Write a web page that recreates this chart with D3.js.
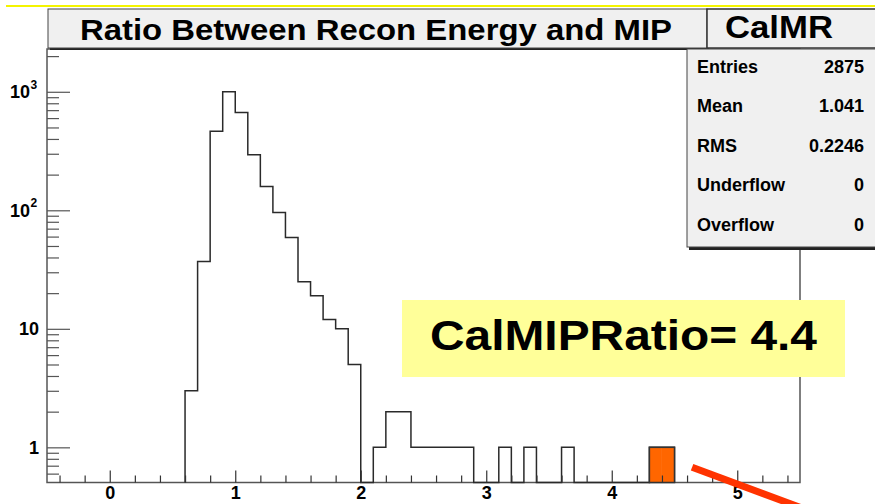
<!DOCTYPE html>
<html>
<head>
<meta charset="utf-8">
<script src="https://cdn.jsdelivr.net/npm/d3@7"></script>
<style>
  body { margin: 0; background: #fff; }
  svg { display: block; font-family: "Liberation Sans", Arial, sans-serif; font-weight: bold; }
</style>
</head>
<body>
<svg id="chart" width="875" height="504"></svg>
<script>
'use strict';

// histogram bins (lower edge, width 0.1) and their counts
var binLow = [0.6, 0.7, 0.8, 0.9, 1.0, 1.1, 1.2, 1.3, 1.4, 1.5, 1.6, 1.7, 1.8, 1.9,
              2.0, 2.1, 2.2, 2.3, 2.4, 2.5, 2.6, 2.7, 2.8, 2.9, 3.0, 3.1, 3.2, 3.3,
              3.4, 3.5, 3.6, 3.7, 3.8, 3.9, 4.0, 4.1, 4.2, 4.3, 4.4];
var counts = [3, 37, 465, 1000, 670, 294, 159, 96, 59, 25, 19, 12, 10, 5,
              0, 1, 2, 2, 1, 1, 1, 1, 1, 0, 0, 1, 0, 1,
              0, 0, 1, 0, 0, 0, 0, 0, 0, 1, 1];
var binWidth = 0.1;

// the highlighted bins
var highlightLow = [4.3, 4.4];

var xTickLabels = ['0', '1', '2', '3', '4', '5'];
var xTickValues = [0, 1, 2, 3, 4, 5];
var yTickValues = [1, 10, 100, 1000];
var yTickLabels = [['1', ''], ['10', ''], ['10', '2'], ['10', '3']];

var statNames = ['Entries', 'Mean', 'RMS', 'Underflow', 'Overflow'];
var statValues = ['2875', '1.041', '0.2246', '0', '0'];

var title = 'Ratio Between Recon Energy and MIP';
var histName = 'CalMR';
var note = 'CalMIPRatio= 4.4';
var notePointer = [[4.64, 0.68], [5.7, 0.26]];

// constants
var frame = {left: 47, right: 800, top: 49, bottom: 482.5},
    axisColor = '#555';

var svg = d3.select('#chart');

var x = d3.scaleLinear().domain([-0.5, 5.5]).range([frame.left, frame.right]);
var y = d3.scaleLog().domain([0.505, 2296]).range([frame.bottom, frame.top]);

// yellow rule at the very top of the slide
svg.append('rect').attr('x', 6).attr('y', 5).attr('width', 869).attr('height', 2).attr('fill', '#f4f400');

// frame
svg.append('rect')
    .attr('x', frame.left).attr('y', frame.top)
    .attr('width', frame.right - frame.left).attr('height', frame.bottom - frame.top)
    .attr('fill', 'none').attr('stroke', axisColor).attr('stroke-width', 1.5);

// histogram outline, empty bins drawn on the floor
var pts = [[x(binLow[0]), frame.bottom]];
binLow.forEach(function (lo, i) {
    var yy = counts[i] > 0 ? y(counts[i]) : frame.bottom;
    pts.push([x(lo), yy]);
    pts.push([x(lo + binWidth), yy]);
});
pts.push([x(binLow[binLow.length - 1] + binWidth), frame.bottom]);

svg.append('path')
    .attr('d', d3.line()(pts))
    .attr('fill', 'none')
    .attr('stroke', '#2a2a2a')
    .attr('stroke-width', 1.5);

// highlighted bins
svg.selectAll('rect.hl')
    .data(highlightLow)
    .enter().append('rect')
    .attr('class', 'hl')
    .attr('x', function (d) { return x(d); })
    .attr('y', function (d) { return y(counts[binLow.findIndex(function (b) { return Math.abs(b - d) < 1e-6; })]); })
    .attr('width', x(binWidth) - x(0))
    .attr('height', function (d) { return frame.bottom - y(1); })
    .attr('fill', '#ff6600')
    .attr('stroke', 'none');
svg.append('rect')
    .attr('x', x(highlightLow[0])).attr('y', y(1))
    .attr('width', x(highlightLow[1] + binWidth) - x(highlightLow[0]))
    .attr('height', frame.bottom - y(1))
    .attr('fill', 'none').attr('stroke', '#333').attr('stroke-width', 1.5);

// x axis ticks, drawn inward
var xMinor = x.ticks(30).filter(function (t) { return xTickValues.indexOf(t) < 0; });
svg.append('g').attr('transform', 'translate(0,' + frame.bottom + ')')
    .call(d3.axisBottom(x).tickValues(xMinor).tickSize(-7).tickFormat(''))
    .call(function (g) { g.select('.domain').remove(); })
    .selectAll('line').attr('stroke', '#333').attr('stroke-width', 1.2);

var xAxis = svg.append('g').attr('transform', 'translate(0,' + frame.bottom + ')')
    .call(d3.axisBottom(x).tickValues(xTickValues).tickSize(-12).tickPadding(6)
        .tickFormat(function (d, i) { return xTickLabels[i]; }));
xAxis.select('.domain').remove();
xAxis.selectAll('line').attr('stroke', '#333').attr('stroke-width', 1.2);
xAxis.selectAll('text')
    .attr('y', 16.5).attr('dy', null)
    .style('font-family', '"Liberation Sans", Arial, sans-serif')
    .style('font-weight', 'bold').style('font-size', '18px').attr('fill', '#000');

// y axis ticks (log), drawn inward
var yMinor = [];
[-1, 0, 1, 2, 3].forEach(function (e) {
    for (var k = 2; k <= 9; k++) {
        var v = k * Math.pow(10, e);
        if (v >= y.domain()[0] && v <= y.domain()[1]) yMinor.push(v);
    }
});
svg.append('g').attr('transform', 'translate(' + frame.left + ',0)')
    .call(d3.axisLeft(y).tickValues(yMinor).tickSize(-12).tickFormat(''))
    .call(function (g) { g.select('.domain').remove(); })
    .selectAll('line').attr('stroke', '#555').attr('stroke-width', 1.2);
svg.append('g').attr('transform', 'translate(' + frame.left + ',0)')
    .call(d3.axisLeft(y).tickValues(yTickValues).tickSize(-23).tickFormat(''))
    .call(function (g) { g.select('.domain').remove(); })
    .selectAll('line').attr('stroke', '#555').attr('stroke-width', 1.2);

// y labels with superscript exponents
var yLab = svg.selectAll('text.ylab')
    .data(yTickValues)
    .enter().append('text')
    .attr('class', 'ylab')
    .attr('x', function (d, i) { return yTickLabels[i][1] ? 30 : 39; })
    .attr('y', function (d) { return y(d) + 6.5; })
    .attr('text-anchor', 'end')
    .style('font-size', '18px');
yLab.append('tspan').text(function (d, i) { return yTickLabels[i][0]; });
svg.selectAll('text.yexp')
    .data(yTickValues.filter(function (d, i) { return yTickLabels[i][1]; }))
    .enter().append('text')
    .attr('class', 'yexp')
    .attr('x', 30.5)
    .attr('y', function (d) { return y(d) - 3; })
    .style('font-size', '12px')
    .text(function (d) { return yTickLabels[yTickValues.indexOf(d)][1]; });

// title box
svg.append('rect').attr('x', 50).attr('y', 11).attr('width', 659).attr('height', 39).attr('fill', '#222');
svg.append('rect').attr('x', 48).attr('y', 9).attr('width', 659).attr('height', 39)
    .attr('fill', '#f0f0f0').attr('stroke', '#444').attr('stroke-width', 1);
svg.append('text')
    .attr('x', 80).attr('y', 39.5)
    .attr('textLength', 592).attr('lengthAdjust', 'spacingAndGlyphs')
    .style('font-size', '29px')
    .text(title);

// name box
svg.append('rect').attr('x', 707).attr('y', 9).attr('width', 180).attr('height', 39)
    .attr('fill', '#f0f0f0').attr('stroke', '#333').attr('stroke-width', 1.5);
svg.append('text')
    .attr('x', 725).attr('y', 37.5)
    .attr('textLength', 108).attr('lengthAdjust', 'spacingAndGlyphs')
    .style('font-size', '31px')
    .text(histName);

// stats box
svg.append('rect').attr('x', 689).attr('y', 51).attr('width', 200).attr('height', 199).attr('fill', '#222');
svg.append('rect').attr('x', 687).attr('y', 49).attr('width', 200).attr('height', 198)
    .attr('fill', '#f0f0f0').attr('stroke', '#444').attr('stroke-width', 1);

var rowY = d3.scalePoint().domain(statNames).range([72.5, 231]);
svg.selectAll('text.sname')
    .data(statNames)
    .enter().append('text')
    .attr('class', 'sname')
    .attr('x', 697)
    .attr('y', function (d) { return rowY(d); })
    .style('font-size', '18px')
    .text(function (d) { return d; });
svg.selectAll('text.sval')
    .data(statValues)
    .enter().append('text')
    .attr('class', 'sval')
    .attr('x', 864)
    .attr('y', function (d, i) { return rowY(statNames[i]); })
    .attr('text-anchor', 'end')
    .style('font-size', '18px')
    .text(function (d) { return d; });

// annotation box
svg.append('rect').attr('x', 402).attr('y', 300).attr('width', 443).attr('height', 77).attr('fill', '#ffff99');
svg.append('text')
    .attr('x', 430).attr('y', 350)
    .attr('textLength', 387).attr('lengthAdjust', 'spacingAndGlyphs')
    .style('font-size', '43px')
    .text(note);

// pointer
svg.append('line')
    .attr('x1', x(notePointer[0][0])).attr('y1', y(notePointer[0][1]))
    .attr('x2', x(notePointer[1][0])).attr('y2', y(notePointer[1][1]))
    .attr('stroke', '#ff3300').attr('stroke-width', 7);
</script>
</body>
</html>
